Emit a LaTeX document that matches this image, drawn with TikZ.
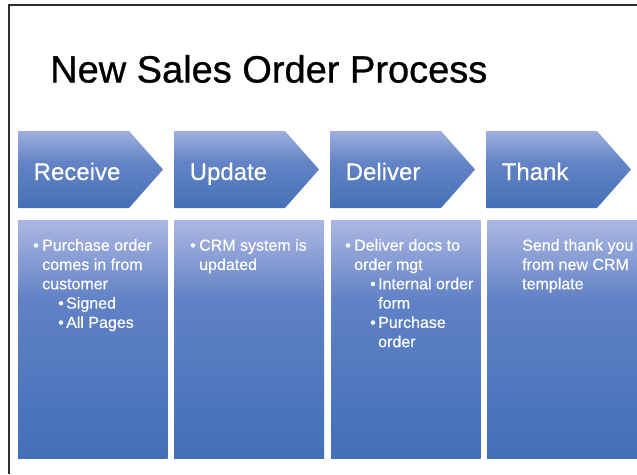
\documentclass[tikz,border=0pt]{standalone}
\usepackage{fontspec}
\setmainfont{Liberation Sans}
\newfontfamily\titlefont[FakeBold=0.8]{Liberation Sans}
\newfontfamily\labfont[FakeBold=0.3]{Liberation Sans}
\definecolor{chtop}{RGB}{158,175,222}
\definecolor{chmid}{RGB}{100,132,198}
\definecolor{chbot}{RGB}{68,112,182}
\definecolor{bxtop}{RGB}{172,183,226}
\definecolor{bxmid}{RGB}{96,129,197}
\definecolor{bxbot}{RGB}{66,112,183}
\definecolor{framec}{RGB}{45,45,45}
\pgfdeclareverticalshading{chevshade}{100bp}{color(0bp)=(chbot); color(25bp)=(chbot); color(55bp)=(chmid); color(75bp)=(chtop); color(100bp)=(chtop)}
\pgfdeclareverticalshading{boxshade}{100bp}{color(0bp)=(bxbot); color(25bp)=(bxbot); color(58bp)=(bxmid); color(75bp)=(bxtop); color(100bp)=(bxtop)}
\newcommand\itm{\makebox[9pt][l]{\textbullet}}
\newcommand\sitm{\makebox[8pt][l]{\textbullet}}
\tikzset{
  chev/.style={shading=chevshade},
  colbox/.style={shading=boxshade},
  chevlabel/.style={anchor=base west, inner sep=0pt, text=white, font=\labfont\fontsize{24}{28}\selectfont},
  boxtext/.style={anchor=base west, inner sep=0pt, text=white, font=\labfont\fontsize{16}{19.3}\selectfont},
  titletext/.style={anchor=base west, inner sep=0pt, text=black, font=\titlefont\fontsize{38}{44}\selectfont},
}
\begin{document}
\begin{tikzpicture}[x=1pt,y=-1pt]
\useasboundingbox (0,0) rectangle (637,474);
\fill[white] (0,0) rectangle (637,474);
% frame
\draw[framec, line width=1.6pt] (9,474) -- (9,5) -- (637,5);
% title
\node[titletext] (title) at (50,82.5) {New Sales Order Process};
% chevrons
\foreach \L/\nm/\lab in {18/rec/Receive, 174/upd/Update, 330/del/Deliver, 486/thk/Thank}{
  \shade[chev] (\L,131) -- ({\L+111},131) -- ({\L+145},169.5) -- ({\L+111},208) -- (\L,208) -- cycle;
  \node[chevlabel] (\nm) at ({\L+15.5},180) {\lab};
}
% boxes
\shade[colbox] (18,220) rectangle (167.5,458);
\shade[colbox] (174,220) rectangle (324,458);
\shade[colbox] (331,220) rectangle (480.5,458);
\shade[colbox] (487,220) rectangle (637,458);
% box texts
\node[boxtext] (t1) at (33,250.7) {\begin{tabular}[t]{@{}l@{}}
\itm Purchase order\\
\hspace*{9pt}comes in from\\
\hspace*{9pt}customer\\
\hspace*{25pt}\sitm Signed\\
\hspace*{25pt}\sitm All Pages
\end{tabular}};
\node[boxtext] (t2) at (190,250.7) {\begin{tabular}[t]{@{}l@{}}
\itm CRM system is\\
\hspace*{9pt}updated
\end{tabular}};
\node[boxtext] (t3) at (345,250.7) {\begin{tabular}[t]{@{}l@{}}
\itm Deliver docs to\\
\hspace*{9pt}order mgt\\
\hspace*{25pt}\sitm Internal order\\
\hspace*{33pt}form\\
\hspace*{25pt}\sitm Purchase\\
\hspace*{33pt}order
\end{tabular}};
\node[boxtext] (t4) at (522,250.7) {\begin{tabular}[t]{@{}l@{}}
Send thank you\\
from new CRM\\
template
\end{tabular}};
\end{tikzpicture}
\end{document}
